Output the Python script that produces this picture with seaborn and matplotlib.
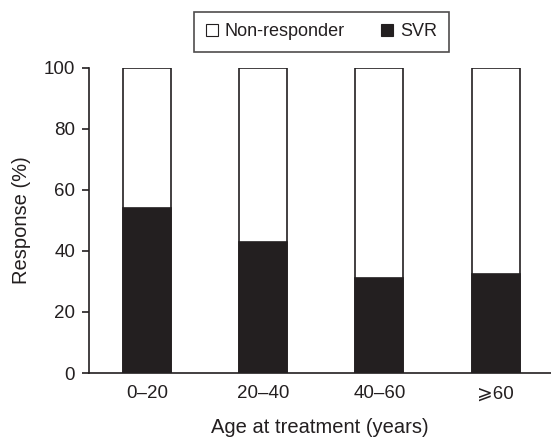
import matplotlib
matplotlib.use("Agg")
import matplotlib.pyplot as plt
import seaborn as sns
import pandas as pd
from matplotlib.patches import Patch

categories = ["0\u201320", "20\u201340", "40\u201360", "\u2a7e60"]
svr = [54, 43, 31, 32.5]
nonresp = [46, 57, 69, 67.5]

sns.set_theme(style="ticks")
plt.rcParams['font.family'] = ['Liberation Sans', 'DejaVu Sans']

df = pd.DataFrame({"age": categories, "svr": svr,
                   "total": [a + b for a, b in zip(svr, nonresp)]})

fig = plt.figure(figsize=(5.51, 4.37), dpi=100)
ax = fig.add_axes([89/551, 1 - 373/437, 1 - 89/551, (373 - 67.7)/437])

dark = "#231f20"
sns.barplot(data=df, x="age", y="total", color="white", edgecolor=dark,
            linewidth=1.2, width=0.413, ax=ax, saturation=1)
sns.barplot(data=df, x="age", y="svr", color=dark, edgecolor=dark,
            linewidth=1.2, width=0.413, ax=ax, saturation=1)

ax.set_xlim(-0.5, 3.476)
ax.set_ylim(0, 100)
ax.set_yticks([0, 20, 40, 60, 80, 100])
ax.tick_params(axis="y", length=5, width=1.2, color=dark, labelsize=13.5, pad=5, labelcolor=dark)
ax.tick_params(axis="x", length=0, labelsize=13.5, pad=9, labelcolor=dark)
for lbl in ax.get_xticklabels():
    lbl.set_family(['Liberation Sans', 'DejaVu Sans'])
ax.set_xlabel("Age at treatment (years)", fontsize=14.5, labelpad=11, color=dark)
ax.set_ylabel("Response (%)", fontsize=14.5, labelpad=9, color=dark)
sns.despine(ax=ax, right=True, top=True)
ax.spines["left"].set_linewidth(1.2)
ax.spines["bottom"].set_linewidth(1.2)
ax.spines["left"].set_color(dark)
ax.spines["bottom"].set_color(dark)

handles = [Patch(facecolor="white", edgecolor=dark, linewidth=0.8, label="Non-responder"),
           Patch(facecolor=dark, edgecolor=dark, linewidth=0.8, label="SVR")]
leg = fig.legend(handles=handles, loc="center", bbox_to_anchor=(321.5/551, 1 - 32/437),
                 ncol=2, frameon=True, fancybox=False, fontsize=13, handlelength=0.67,
                 handleheight=0.67, handletextpad=0.39, columnspacing=2.0,
                 borderpad=0.65, edgecolor=dark)
leg.get_frame().set_linewidth(1.2)
for t in leg.get_texts():
    t.set_color(dark)

fig.savefig("out.png", dpi=100)
